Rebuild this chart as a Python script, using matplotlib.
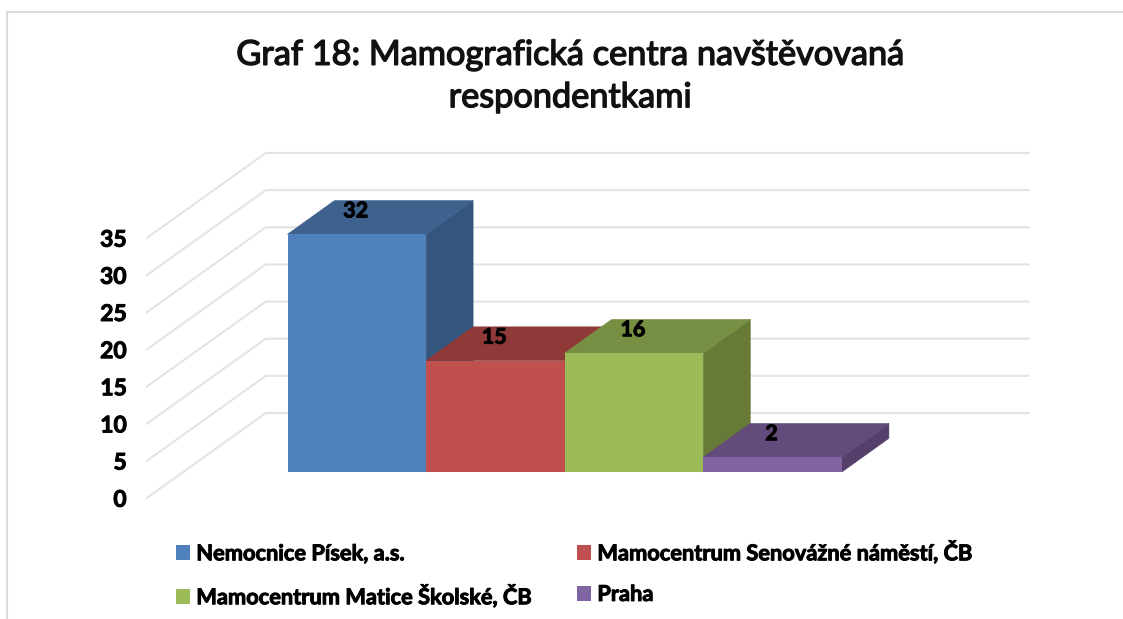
"""
Graf 18: pseudo-3D column chart drawn on a plain 2D axes.
"""

import matplotlib
matplotlib.use("Agg")
import matplotlib.pyplot as plt
from matplotlib.patches import Patch, Polygon
import matplotlib.patheffects as pe

plt.rcParams['font.family'] = ['Lato', 'DejaVu Sans']

categories = ["Nemocnice Písek, a.s.", "Mamocentrum Senovážné náměstí, ČB",
              "Mamocentrum Matice Školské, ČB", "Praha"]
values = [32, 15, 16, 2]
y_ticks = [0, 5, 10, 15, 20, 25, 30, 35]
title = "Graf 18: Mamografická centra navštěvovaná\nrespondentkami"

front_colors = ["#4F81BD", "#C0504D", "#9BBB59", "#8064A2"]
top_colors = ["#3E618D", "#8F3A38", "#778F43", "#634C7C"]
side_colors = ["#34557D", "#7E3331", "#677A37", "#553F6B"]

# pixel scale of the chart: one category wide, one value unit high
W, H = 1123, 619
PX_X = 138.6
PX_Y = 7.43
X0, Y0 = 287.5, 472

# depth of a bar and of the walls, in data units
BAR_DX, BAR_DY = 47 / PX_X, 33.7 / PX_Y
WALL_LEFT, WALL_BACK, WALL_RIGHT = -1.015, -0.157, 5.348
FLOOR_FRONT, FLOOR_BACK = -3.5, 7.94

heavy = [pe.withStroke(linewidth=0.7, foreground="black")]

fig = plt.figure(figsize=(W / 100, H / 100), dpi=100)
ax = fig.add_axes([0, 0, 1, 1])
ax.set_xlim(-X0 / PX_X, (W - X0) / PX_X)
ax.set_ylim((Y0 - H) / PX_Y, Y0 / PX_Y)
ax.axis("off")

# outer frame of the chart area
ax.plot([0.006, 0.006, 1], [0, 0.98, 0.98], transform=ax.transAxes, color="#dcdcdc", lw=1.5)

for v in y_ticks:
    ax.plot([WALL_LEFT, WALL_BACK, WALL_RIGHT],
            [v + FLOOR_FRONT, v + FLOOR_BACK, v + FLOOR_BACK],
            color="#e4e4e4", lw=1.5, zorder=1)
    ax.text(WALL_LEFT - 0.145, v + FLOOR_FRONT - 0.3, str(v), ha="right", va="center",
            fontsize=16.5, fontweight="bold", color="black", path_effects=heavy)

# left to right, so each bar hides the foot of the one before it
for i, v in enumerate(values):
    ax.add_patch(Polygon([(i + 1, 0), (i + 1 + BAR_DX, BAR_DY), (i + 1 + BAR_DX, v + BAR_DY), (i + 1, v)],
                         facecolor=side_colors[i], edgecolor=side_colors[i], lw=0.4, zorder=2 + i))
    ax.add_patch(Polygon([(i, v), (i + BAR_DX, v + BAR_DY), (i + 1 + BAR_DX, v + BAR_DY), (i + 1, v)],
                         facecolor=top_colors[i], edgecolor=top_colors[i], lw=0.4, zorder=2 + i))
    ax.bar(i + 0.5, v, width=1, color=front_colors[i], zorder=2 + i)
    ax.text(i + 0.492, v + 3.15, str(v), ha="center", va="center", fontsize=15.5,
            fontweight="bold", color="black", zorder=10, path_effects=heavy)

fig.text(570 / W, 1 - 76 / H, title, ha="center", va="center", fontsize=24.7, color="#111111",
         linespacing=1.4, path_effects=[pe.withStroke(linewidth=1.0, foreground="#111111")])

# matplotlib fills legend columns first
order = [0, 2, 1, 3]
handles = [Patch(facecolor=front_colors[i], label=categories[i]) for i in order]
leg = fig.legend(handles=handles, ncol=2, loc="upper left", bbox_to_anchor=(176 / W, 1 - 540 / H),
                 frameon=False, handlelength=0.63, handleheight=0.68, handletextpad=0.3,
                 columnspacing=2.1, labelspacing=0.9, borderaxespad=0, borderpad=0,
                 prop={"size": 15.7, "weight": "bold"})
for t in leg.get_texts():
    t.set_path_effects(heavy)

fig.savefig("out.png", dpi=100)
